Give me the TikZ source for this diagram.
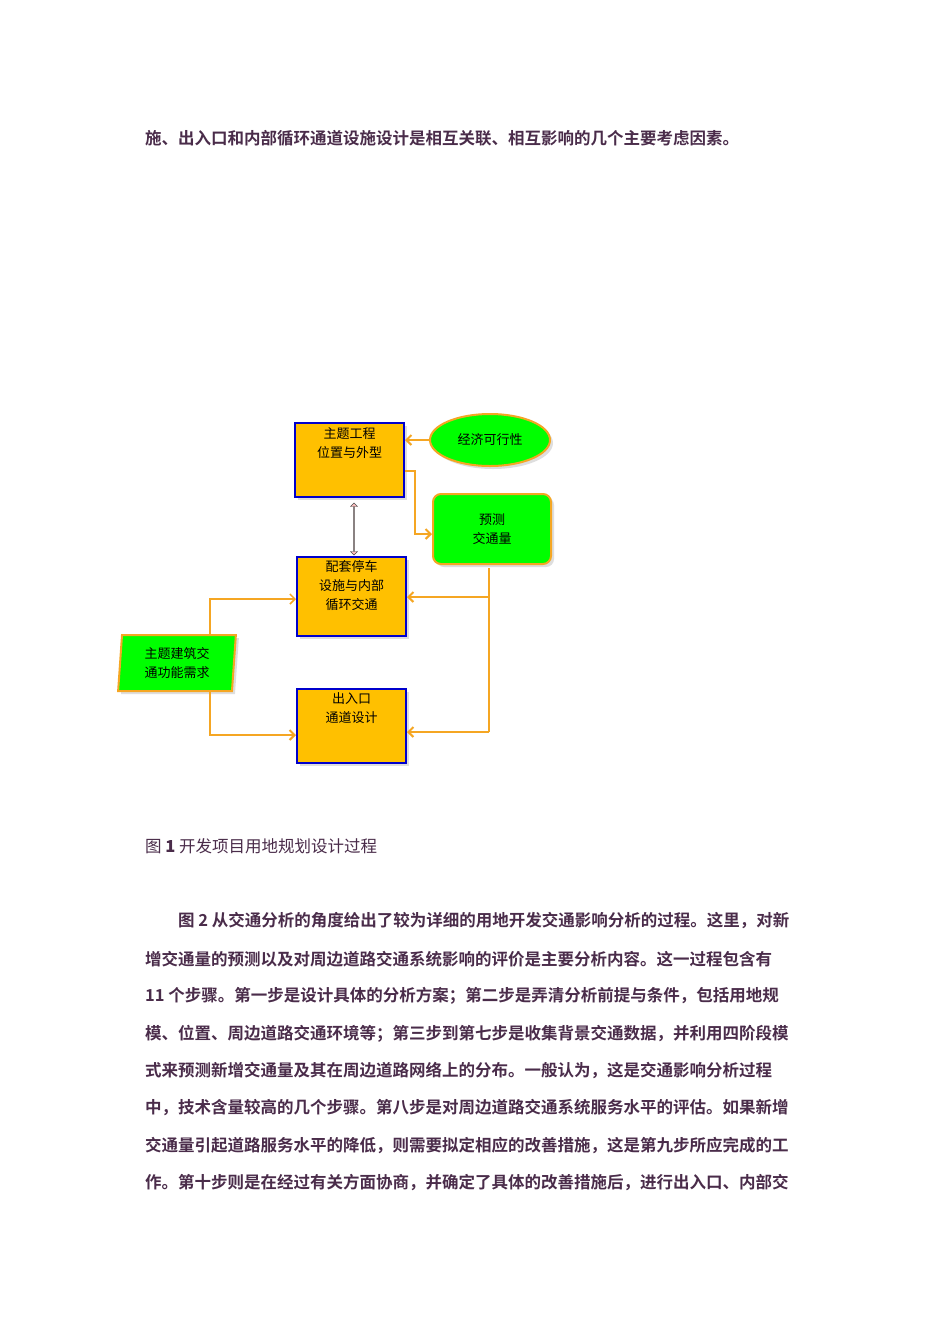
\documentclass[tikz,border=0pt]{standalone}
\usepackage{fontspec}
\newfontfamily\cjk{Noto Sans CJK SC}
\newfontfamily\cjkb{Noto Sans CJK SC Bold}
\usetikzlibrary{shapes.geometric,shapes.arrows,arrows.meta,shadows}
\definecolor{txt}{HTML}{4A2C4A}
\definecolor{org}{HTML}{F5A623}
\definecolor{gold}{HTML}{FFC000}
\definecolor{grn}{HTML}{00FF00}
\tikzset{
 para/.style={anchor=west,inner sep=0pt,font=\cjkb\fontsize{16.5}{16.5}\selectfont,text=txt},
 ybox/.style={draw=blue!80!black,line width=2pt,fill=gold,minimum width=109pt,minimum height=74pt,font=\cjk\fontsize{13}{19}\selectfont,align=center,anchor=north west,drop shadow={shadow xshift=3pt,shadow yshift=-3pt,fill=gray!50}},
 gshape/.style={draw=org,line width=2pt,fill=grn,font=\cjk\fontsize{13}{19}\selectfont,align=center,drop shadow={shadow xshift=3pt,shadow yshift=-3pt,fill=gray!50}},
 conn/.style={draw=org,line width=2pt,-{Straight Barb[length=5pt,width=10pt]}},
 line/.style={draw=org,line width=2pt}
}
\begin{document}
\begin{tikzpicture}[x=1pt,y=-1pt]
\useasboundingbox[fill=white] (0,0) rectangle (950,1344);
\node[para] (t0) at (145,138) {施、出入口和内部循环通道设施设计是相互关联、相互影响的几个主要考虑因素。};
% diagram
\node[ybox] (b1) at (294,422) {主题工程\\位置与外型\\[16pt]};
\node[ybox] (b2) at (296,556) {配套停车\\设施与内部\\循环交通\\[4pt]};
\node[ybox] (b3) at (296,688) {出入口\\通道设计\\[18pt]};
\node[gshape,ellipse,minimum width=120pt,minimum height=52pt] (e) at (490,440) {经济可行性};
\node[gshape,rounded corners=8pt,minimum width=118pt,minimum height=70pt,anchor=north west] (g) at (432,493) {预测\\交通量};
\node[gshape,trapezium,trapezium left angle=86,trapezium right angle=94,inner sep=2pt,minimum width=112pt,minimum height=56pt,anchor=north west] (p) at (148,634) {主题建筑交\\通功能需求};
\draw[conn] (e.west) -- (e.west -| b1.east);
\draw[conn] (b1.east |- 0,471) -- (415,471) -- (415,534) -- (g.west |- 0,534);
\node[draw=black!70,fill=pink,double arrow,double arrow head extend=2pt,minimum height=52pt,minimum width=7pt,inner sep=0pt,rotate=90] (da) at (354,529) {};
\coordinate (gb) at (489,568);
\draw[line] (gb) -- (489,732);
\draw[conn] (489,597) -- (b2.east |- 0,597);
\draw[conn] (489,732) -- (b3.east |- 0,732);
\draw[conn,line width=1.5pt] (210,634) -- (210,599) -- (b2.west |- 0,599);
\draw[conn] (210,690) -- (210,735) -- (b3.west |- 0,735);
% caption and text
\node[para,font=\cjk\fontsize{16.5}{16.5}\selectfont] (cap) at (145,846) {图 \textbf{1} 开发项目用地规划设计过程};
\node[para] (l1) at (178,921) {图 2 从交通分析的角度给出了较为详细的用地开发交通影响分析的过程。这里，对新};
\node[para] (l2) at (145,959) {增交通量的预测以及对周边道路交通系统影响的评价是主要分析内容。这一过程包含有};
\node[para] (l3) at (145,996) {11 个步骤。第一步是设计具体的分析方案；第二步是弄清分析前提与条件，包括用地规};
\node[para] (l4) at (145,1034) {模、位置、周边道路交通环境等；第三步到第七步是收集背景交通数据，并利用四阶段模};
\node[para] (l5) at (145,1071) {式来预测新增交通量及其在周边道路网络上的分布。一般认为，这是交通影响分析过程};
\node[para] (l6) at (145,1108) {中，技术含量较高的几个步骤。第八步是对周边道路交通系统服务水平的评估。如果新增};
\node[para] (l7) at (145,1146) {交通量引起道路服务水平的降低，则需要拟定相应的改善措施，这是第九步所应完成的工};
\node[para] (l8) at (145,1183) {作。第十步则是在经过有关方面协商，并确定了具体的改善措施后，进行出入口、内部交};
\end{tikzpicture}
\end{document}
